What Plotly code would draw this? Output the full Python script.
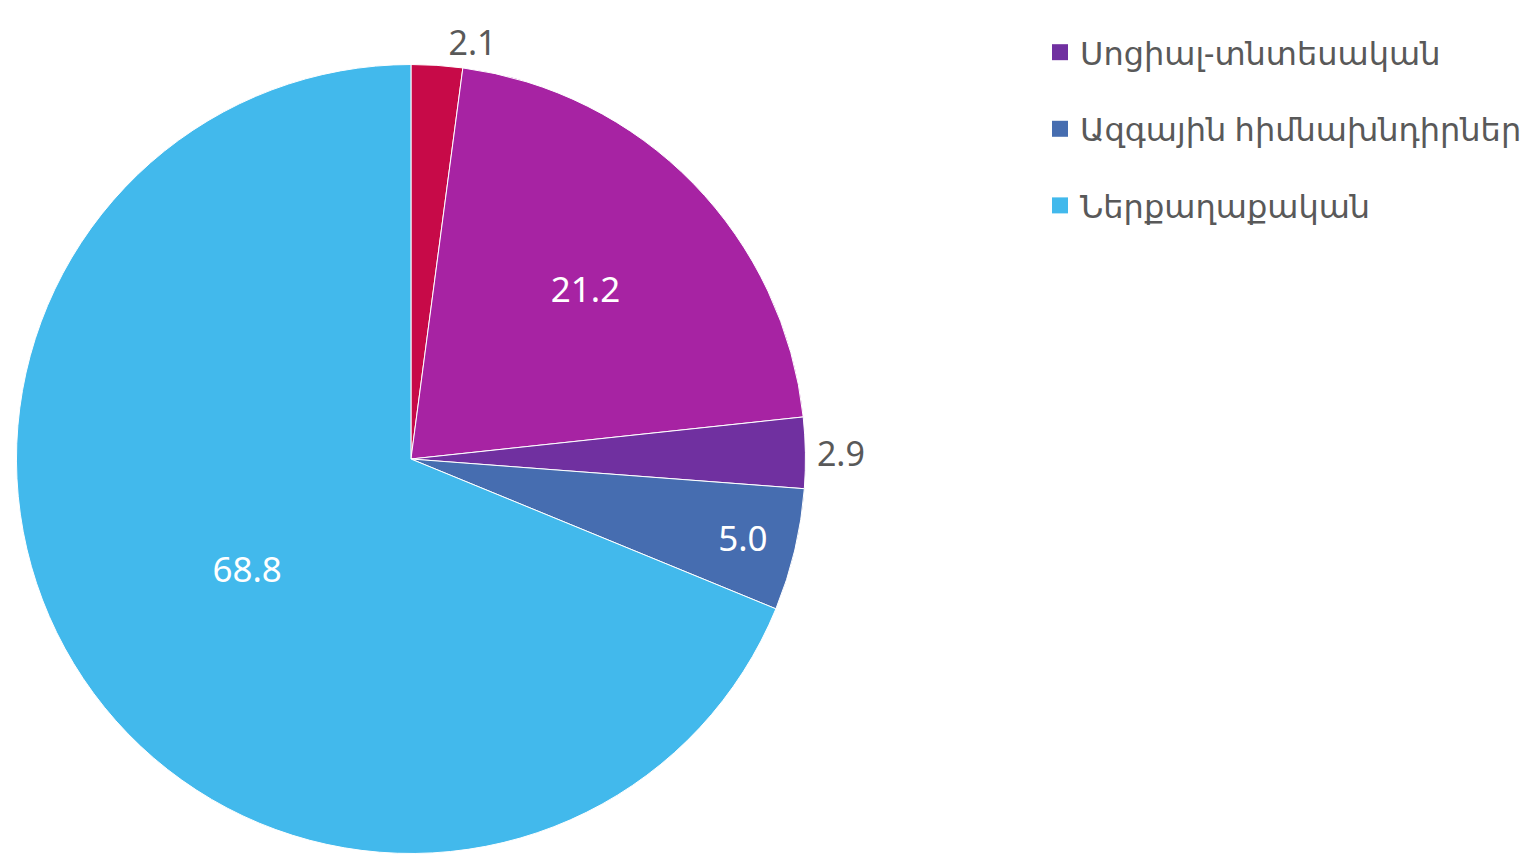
import plotly.graph_objects as go

labels = ["Արտաքին քաղաքական", "Այլ", "Սոցիալ-տնտեսական", "Ազգային հիմնախնդիրներ", "Ներքաղաքական"]
values = [2.1, 21.2, 2.9, 5.0, 68.8]
colors = ["#C70A48", "#A723A3", "#7030A0", "#466DB0", "#42B9EC"]
text_pos = ["outside", "inside", "outside", "inside", "inside"]
legend_labels = ["Սոցիալ-տնտեսական", "Ազգային հիմնախնդիրներ", "Ներքաղաքական"]
legend_colors = ["#7030A0", "#466DB0", "#42B9EC"]

FONT = "Noto Sans, DejaVu Sans, sans-serif"

fig = go.Figure()
fig.add_trace(go.Pie(
    labels=labels, values=values, sort=False, direction="clockwise", rotation=0,
    marker=dict(colors=colors, line=dict(color="white", width=1)),
    texttemplate="%{value:.1f}", textposition=text_pos,
    insidetextfont=dict(color="white", size=35, family=FONT),
    outsidetextfont=dict(color="#595959", size=34, family=FONT),
    insidetextorientation="horizontal",
    showlegend=False,
    domain=dict(x=[0.0055, 0.5185], y=[0.0, 1.0]),
))
for lab, col in zip(legend_labels, legend_colors):
    fig.add_trace(go.Scatter(
        x=[None], y=[None], mode="markers", name=lab, legendgroup=lab,
        marker=dict(symbol="square", size=16, color=col),
    ))

fig.update_layout(
    width=1538, height=857,
    margin=dict(l=0, r=0, t=0, b=0),
    paper_bgcolor="white", plot_bgcolor="white",
    font=dict(family=FONT, color="#595959", size=32),
    xaxis=dict(visible=False), yaxis=dict(visible=False),
    legend=dict(x=0.671, y=1.044, xanchor="left", yanchor="top",
                font=dict(size=32, color="#595959", family=FONT),
                tracegroupgap=32, itemwidth=30),
)
fig.write_html("out.html")
